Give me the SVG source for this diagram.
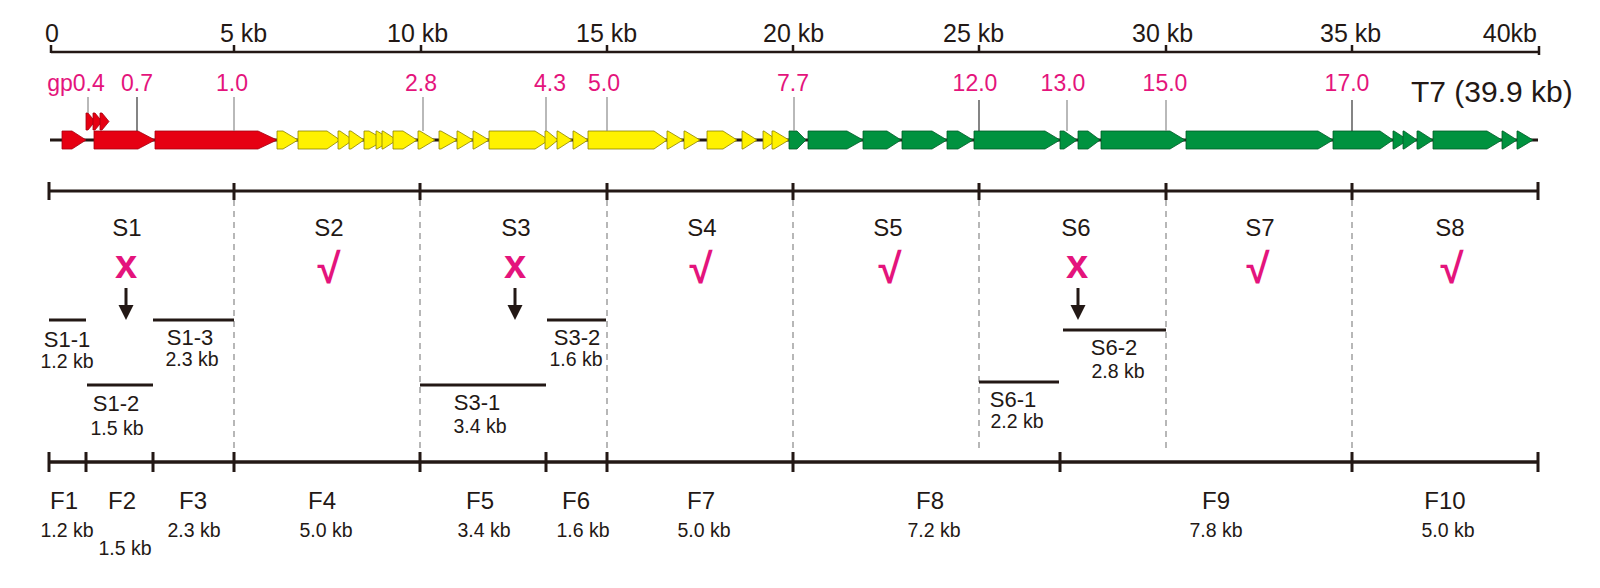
<svg xmlns="http://www.w3.org/2000/svg" width="1600" height="588" viewBox="0 0 1600 588">
<style>
text{font-family:"Liberation Sans",Arial,sans-serif;fill:#231815}
.ax{font-size:25px}
.mg{font-size:23px;fill:#E4147C;text-anchor:middle}
.t7{font-size:30px}
.sl{font-size:24px;text-anchor:middle}
.sub{font-size:22px;text-anchor:middle}
.kb{font-size:19.5px;text-anchor:middle}
.fl{font-size:24px;text-anchor:middle}
.x{font-size:40px;font-weight:bold;fill:#E4147C;text-anchor:middle}
.ck{font-size:42px;font-weight:bold;fill:#E4147C;text-anchor:middle}
.ln{stroke:#231815;stroke-width:3;fill:none}
.tk{stroke:#231815;stroke-width:2.5;fill:none}
.dash{stroke:#999;stroke-width:1.4;stroke-dasharray:6 5;fill:none}
.lead{stroke:#8a8a8a;stroke-width:1.2}
.leadk{stroke:#333;stroke-width:1.2}
.r{fill:#E60012;stroke:#a50010;stroke-width:0.8}
.y{fill:#FFF100;stroke:#8c8200;stroke-width:0.8}
.g{fill:#00923F;stroke:#005a27;stroke-width:0.8}
.arr{fill:#231815}
</style>

<g id="top-axis">
<line class="tk" x1="51" y1="52" x2="1539" y2="52"/>
<path class="tk" d="M51 45V53M234 45V53M421 45V53M607 45V53M793 45V53M979 45V53M1166 45V53M1352 45V53M1539 46V55"/>
<text class="ax" x="52" y="42" text-anchor="middle">0</text>
<text class="ax" x="220" y="42">5 kb</text>
<text class="ax" x="387" y="42">10 kb</text>
<text class="ax" x="576" y="42">15 kb</text>
<text class="ax" x="763" y="42">20 kb</text>
<text class="ax" x="943" y="42">25 kb</text>
<text class="ax" x="1132" y="42">30 kb</text>
<text class="ax" x="1320" y="42">35 kb</text>
<text class="ax" x="1537" y="42" text-anchor="end">40kb</text>
</g>

<g id="genome">
<line x1="50" y1="140" x2="1538" y2="140" stroke="#231815" stroke-width="3"/>
<text class="t7" x="1411" y="102">T7 (39.9 kb)</text>
<g id="genes-red">
<polygon class="r" points="62,131 72,131 86,140 72,149 62,149"/>
<polygon class="r" points="86,113 88,113 95,121.5 88,130 86,130"/>
<polygon class="r" points="93,113 95,113 102,121.5 95,130 93,130"/>
<polygon class="r" points="100,113 102,113 109,121.5 102,130 100,130"/>
<polygon class="r" points="94,131 138,131 155,140 138,149 94,149"/>
<polygon class="r" points="155,131 258,131 277,140 258,149 155,149"/>
</g>
<g id="genes-yellow">
<polygon class="y" points="277,131 283,131 298,140 283,149 277,149"/>
<polygon class="y" points="298,131 327,131 340,140 327,149 298,149"/>
<polygon class="y" points="338,131 340,131 353,140 340,149 338,149"/>
<polygon class="y" points="349,131 351,131 364,140 351,149 349,149"/>
<polygon class="y" points="364,131 369,131 385,140 369,149 364,149"/>
<polygon class="y" points="376,131 377,131 392,140 377,149 376,149"/>
<polygon class="y" points="382,131 383,131 397,140 383,149 382,149"/>
<polygon class="y" points="393,131 403,131 417,140 403,149 393,149"/>
<polygon class="y" points="418,131 420,131 435,140 420,149 418,149"/>
<polygon class="y" points="439,131 441,131 457,140 441,149 439,149"/>
<polygon class="y" points="457,131 458,131 473,140 458,149 457,149"/>
<polygon class="y" points="473,131 474,131 489,140 474,149 473,149"/>
<polygon class="y" points="489,131 535,131 549,140 535,149 489,149"/>
<polygon class="y" points="545,131 547,131 558,140 547,149 545,149"/>
<polygon class="y" points="557,131 558,131 572,140 558,149 557,149"/>
<polygon class="y" points="573,131 574,131 588,140 574,149 573,149"/>
<polygon class="y" points="588,131 654,131 667,140 654,149 588,149"/>
<polygon class="y" points="667,131 668,131 683,140 668,149 667,149"/>
<polygon class="y" points="684,131 685,131 700,140 685,149 684,149"/>
<polygon class="y" points="707,131 723,131 737,140 723,149 707,149"/>
<polygon class="y" points="742,131 743,131 757,140 743,149 742,149"/>
<polygon class="y" points="763,131 764,131 777,140 764,149 763,149"/>
<polygon class="y" points="772,131 774,131 789,140 774,149 772,149"/>
</g>
<g id="genes-green">
<polygon class="g" points="789,131 797,131 806,140 797,149 789,149"/>
<polygon class="g" points="808,131 847,131 863,140 847,149 808,149"/>
<polygon class="g" points="863,131 887,131 901,140 887,149 863,149"/>
<polygon class="g" points="902,131 932,131 947,140 932,149 902,149"/>
<polygon class="g" points="947,131 958,131 973,140 958,149 947,149"/>
<polygon class="g" points="974,131 1045,131 1060,140 1045,149 974,149"/>
<polygon class="g" points="1060,131 1064,131 1077,140 1064,149 1060,149"/>
<polygon class="g" points="1078,131 1088,131 1100,140 1088,149 1078,149"/>
<polygon class="g" points="1101,131 1170,131 1185,140 1170,149 1101,149"/>
<polygon class="g" points="1186,131 1318,131 1333,140 1318,149 1186,149"/>
<polygon class="g" points="1333,131 1380,131 1393,140 1380,149 1333,149"/>
<polygon class="g" points="1393,131 1394,131 1408,140 1394,149 1393,149"/>
<polygon class="g" points="1403,131 1404,131 1417,140 1404,149 1403,149"/>
<polygon class="g" points="1417,131 1419,131 1433,140 1419,149 1417,149"/>
<polygon class="g" points="1433,131 1487,131 1502,140 1487,149 1433,149"/>
<polygon class="g" points="1502,131 1503,131 1517,140 1503,149 1502,149"/>
<polygon class="g" points="1517,131 1518,131 1533,140 1518,149 1517,149"/>
</g>
<g id="gene-labels">
<text class="mg" x="76" y="91">gp0.4</text>
<text class="mg" x="137" y="91">0.7</text>
<text class="mg" x="232" y="91">1.0</text>
<text class="mg" x="421" y="91">2.8</text>
<text class="mg" x="550" y="91">4.3</text>
<text class="mg" x="604" y="91">5.0</text>
<text class="mg" x="793" y="91">7.7</text>
<text class="mg" x="975" y="91">12.0</text>
<text class="mg" x="1063" y="91">13.0</text>
<text class="mg" x="1165" y="91">15.0</text>
<text class="mg" x="1347" y="91">17.0</text>
</g>
</g>

<g id="connectors">
<line class="lead" x1="88" y1="97" x2="88" y2="113"/>
<line class="leadk" x1="137" y1="97" x2="137" y2="131"/>
<line class="lead" x1="234" y1="97" x2="234" y2="131"/>
<line class="lead" x1="423" y1="97" x2="423" y2="131"/>
<line class="lead" x1="546" y1="97" x2="546" y2="131"/>
<line class="lead" x1="607" y1="97" x2="607" y2="131"/>
<line class="lead" x1="794" y1="97" x2="794" y2="131"/>
<line class="leadk" x1="979" y1="100" x2="979" y2="131"/>
<line class="lead" x1="1067" y1="100" x2="1067" y2="131"/>
<line class="lead" x1="1166" y1="100" x2="1166" y2="131"/>
<line class="leadk" x1="1352" y1="100" x2="1352" y2="131"/>
<g id="down-arrows">
<line class="ln" x1="126" y1="288" x2="126" y2="308"/>
<polygon class="arr" points="118.5,305 133.5,305 126,320"/>
<line class="ln" x1="515" y1="288" x2="515" y2="308"/>
<polygon class="arr" points="507.5,305 522.5,305 515,320"/>
<line class="ln" x1="1078" y1="288" x2="1078" y2="308"/>
<polygon class="arr" points="1070.5,305 1085.5,305 1078,320"/>
</g>
</g>

<g id="dividers">
<path class="dash" d="M234 200V452M420 200V452M607 200V452M793 200V452M979 200V452M1166 200V452M1352 200V452"/>
</g>

<g id="s-ruler">
<line class="ln" x1="49" y1="191" x2="1538" y2="191"/>
<path class="ln" d="M49 182V200M234 183V200M420 183V200M607 183V200M793 183V200M979 183V200M1166 183V200M1352 183V200M1538 182V200"/>
</g>

<g id="S1"><text class="sl" x="127" y="236">S1</text><text class="x" x="126" y="278">x</text></g>
<g id="S2"><text class="sl" x="329" y="236">S2</text><text class="ck" x="329" y="283">√</text></g>
<g id="S3"><text class="sl" x="516" y="236">S3</text><text class="x" x="515" y="278">x</text></g>
<g id="S4"><text class="sl" x="702" y="236">S4</text><text class="ck" x="701" y="283">√</text></g>
<g id="S5"><text class="sl" x="888" y="236">S5</text><text class="ck" x="890" y="283">√</text></g>
<g id="S6"><text class="sl" x="1076" y="236">S6</text><text class="x" x="1077" y="278">x</text></g>
<g id="S7"><text class="sl" x="1260" y="236">S7</text><text class="ck" x="1258" y="283">√</text></g>
<g id="S8"><text class="sl" x="1450" y="236">S8</text><text class="ck" x="1452" y="283">√</text></g>

<g id="S1-1"><line class="ln" x1="49" y1="320" x2="86" y2="320"/><text class="sub" x="67" y="347">S1-1</text><text class="kb" x="67" y="368">1.2 kb</text></g>
<g id="S1-2"><line class="ln" x1="87" y1="385" x2="153" y2="385"/><text class="sub" x="116" y="411">S1-2</text><text class="kb" x="117" y="435">1.5 kb</text></g>
<g id="S1-3"><line class="ln" x1="153" y1="320" x2="234" y2="320"/><text class="sub" x="190" y="345">S1-3</text><text class="kb" x="192" y="366">2.3 kb</text></g>
<g id="S3-1"><line class="ln" x1="420" y1="385" x2="546" y2="385"/><text class="sub" x="477" y="410">S3-1</text><text class="kb" x="480" y="433">3.4 kb</text></g>
<g id="S3-2"><line class="ln" x1="547" y1="320" x2="606" y2="320"/><text class="sub" x="577" y="345">S3-2</text><text class="kb" x="576" y="366">1.6 kb</text></g>
<g id="S6-1"><line class="ln" x1="979" y1="382" x2="1059" y2="382"/><text class="sub" x="1013" y="407">S6-1</text><text class="kb" x="1017" y="428">2.2 kb</text></g>
<g id="S6-2"><line class="ln" x1="1063" y1="330" x2="1166" y2="330"/><text class="sub" x="1114" y="355">S6-2</text><text class="kb" x="1118" y="378">2.8 kb</text></g>

<g id="f-ruler">
<line x1="49" y1="462" x2="1538" y2="462" stroke="#231815" stroke-width="3.5"/>
<path class="ln" d="M49 452V472M86 452V472M153 452V472M234 452V472M420 452V472M546 452V472M607 452V472M793 452V472M1060 452V472M1352 452V472M1538 452V472"/>
</g>

<g id="F1"><text class="fl" x="64" y="509">F1</text><text class="kb" x="67" y="537">1.2 kb</text></g>
<g id="F2"><text class="fl" x="122" y="509">F2</text><text class="kb" x="125" y="555">1.5 kb</text></g>
<g id="F3"><text class="fl" x="193" y="509">F3</text><text class="kb" x="194" y="537">2.3 kb</text></g>
<g id="F4"><text class="fl" x="322" y="509">F4</text><text class="kb" x="326" y="537">5.0 kb</text></g>
<g id="F5"><text class="fl" x="480" y="509">F5</text><text class="kb" x="484" y="537">3.4 kb</text></g>
<g id="F6"><text class="fl" x="576" y="509">F6</text><text class="kb" x="583" y="537">1.6 kb</text></g>
<g id="F7"><text class="fl" x="701" y="509">F7</text><text class="kb" x="704" y="537">5.0 kb</text></g>
<g id="F8"><text class="fl" x="930" y="509">F8</text><text class="kb" x="934" y="537">7.2 kb</text></g>
<g id="F9"><text class="fl" x="1216" y="509">F9</text><text class="kb" x="1216" y="537">7.8 kb</text></g>
<g id="F10"><text class="fl" x="1445" y="509">F10</text><text class="kb" x="1448" y="537">5.0 kb</text></g>
</svg>
